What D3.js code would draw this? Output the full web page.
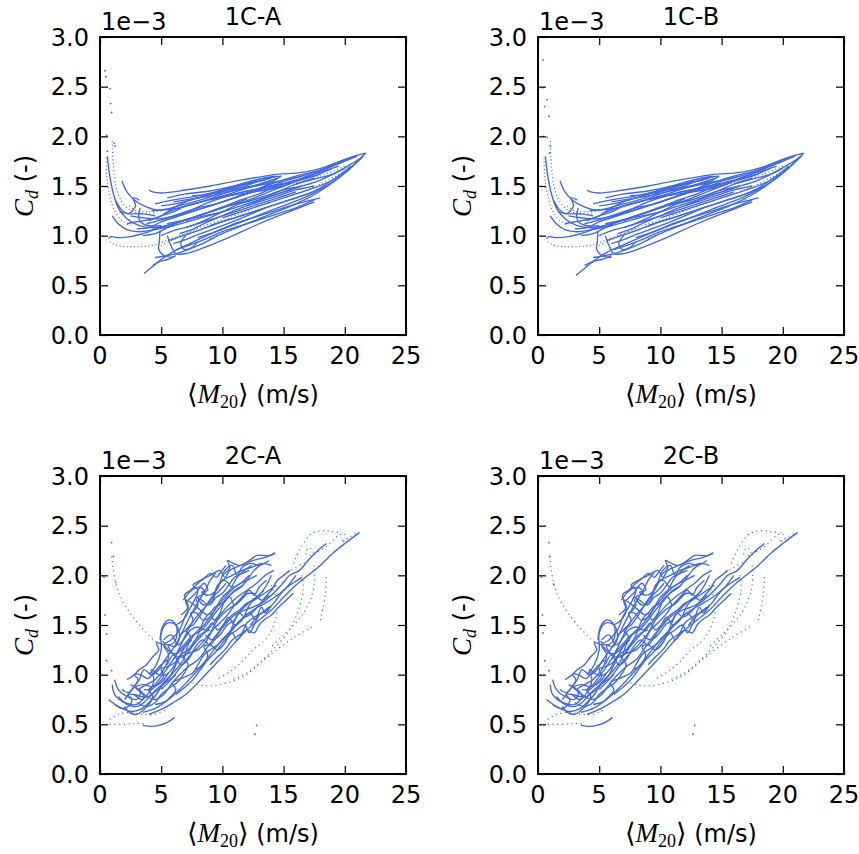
<!DOCTYPE html>
<html>
<head>
<meta charset="utf-8">
<script src="https://cdnjs.cloudflare.com/ajax/libs/d3/7.8.5/d3.min.js"></script>
<style>
    body { margin: 0; background: #fff; }
    svg { font-family: 'DejaVu Sans', sans-serif; }
</style>
</head>
<body>
<svg width="859" height="854"></svg>
<script>
// axis ticks
const xTicks = [0, 5, 10, 15, 20, 25];
const yTicks = [0.0, 0.5, 1.0, 1.5, 2.0, 2.5, 3.0];
const panelTitles = ['1C-A', '1C-B', '2C-A', '2C-B'];

// 1C runs: [M20 (m/s), Cd (x1e-3)]
const solid1C = [
    [[0.6,1.8],[0.8,1.6],[1.1,1.42],[1.5,1.28],[2.2,1.17],[3.2,1.1],[4.5,1.08],[6,1.12],[8,1.2],[10,1.28],[12,1.37]],
    [[1.8,1.55],[2.2,1.44],[2.8,1.36],[3.6,1.3],[4.6,1.26],[6,1.27],[8,1.33],[10,1.4],[12,1.48],[14.5,1.58]],
    [[4.0,1.46],[4.3,1.44],[5,1.43],[7,1.46],[9,1.5],[11.5,1.56],[14.5,1.62]],
    [[0.7,0.97],[0.9,0.99],[1.5,0.98],[2.5,0.99],[3.5,1.02],[4.5,1.06],[6,1.1],[8,1.17],[10,1.24]],
    [[4.5,0.78],[5.5,0.8],[6.5,0.83],[8,0.9],[10,1.02],[12,1.12],[14,1.22],[16,1.32],[18,1.45],[20,1.63],[21.5,1.8]],
    [[5,1.0],[6,1.05],[7.5,1.1],[9,1.18],[11,1.3],[13,1.4],[15,1.5],[17,1.6],[19,1.7],[21,1.8]],
    [[3,1.07],[4,1.08],[5,1.14],[6.5,1.2],[8,1.26],[10,1.34],[12,1.43],[14,1.52],[16,1.6],[18,1.66],[20,1.75]],
    [[2.5,1.2],[3.5,1.18],[5,1.17],[7,1.23],[9,1.3],[11,1.38],[13,1.47],[14.8,1.6]],
    [[4.5,1.32],[6,1.36],[8,1.4],[10,1.46],[12,1.52],[14,1.58]],
    [[5.5,1.38],[7,1.42],[9,1.45],[11,1.5],[13.5,1.56]],
    [[4.9,1.05],[4.85,0.95],[4.8,0.86],[5.2,0.8],[6,0.78]],
    [[5.5,1.0],[5.8,0.9],[6.2,0.82],[7,0.82],[8.5,0.88],[10.5,0.98],[13,1.12],[15,1.22],[17.5,1.34]],
    [[6,0.92],[7,0.96],[8,1.01],[10,1.1],[12,1.2],[13.5,1.28]],
    [[3.3,1.28],[3.15,1.2],[3.3,1.14],[4,1.1],[5,1.1]],
    [[1.6,1.24],[2.5,1.22],[3.5,1.22],[4.5,1.2]],
    [[7,1.15],[8.5,1.22],[10,1.29],[11.5,1.36],[13,1.42],[14.5,1.5],[16,1.55],[17.5,1.6],[19,1.68]],
    [[15,1.55],[16.5,1.6],[18,1.66],[19.5,1.74],[21,1.8]],
    [[12,1.3],[14,1.4],[16,1.48],[18,1.56],[20,1.68]],
    [[14.5,1.62],[16,1.63],[17.5,1.66],[19,1.72],[20.5,1.79],[21.7,1.83]],
    [[4,1.15],[5,1.2],[6,1.24],[7,1.3],[8.5,1.35],[10,1.42],[11.5,1.48],[13,1.55],[14.5,1.6]],
    [[5,1.3],[6.5,1.33],[8,1.38],[9.5,1.43],[11,1.47],[12.5,1.5],[14,1.55]],
    [[6,1.18],[7.5,1.26],[9,1.34],[10.5,1.4],[12,1.45],[13.5,1.48],[15,1.52]],
    [[3.5,1.0],[4.5,1.02],[5.5,1.08],[6.5,1.14],[7.5,1.18],[8.5,1.22],[9.5,1.26],[11,1.32],[12.5,1.36]],
    [[6.5,1.02],[7.5,1.06],[8.5,1.12],[10,1.2],[11.5,1.28],[13,1.34],[14.5,1.4],[16,1.46],[17.5,1.5]],
    [[8,0.98],[9,1.02],[10,1.07],[11,1.12],[12.5,1.18],[14,1.24],[15.5,1.3],[17,1.35],[18,1.38]],
    [[7,1.0],[6.6,0.92],[6.9,0.86],[7.5,0.88],[8,0.94]],
    [[1.0,1.2],[1.5,1.12],[2.2,1.06],[3,1.04],[4,1.05],[5,1.09]],
    [[1.3,1.35],[1.7,1.27],[2.3,1.22],[2.9,1.3],[2.7,1.38],[3.2,1.36]],
    [[3.8,1.12],[5,1.16],[6.5,1.22],[8,1.28],[9.5,1.32],[11,1.38],[12.5,1.44],[14,1.5],[15,1.55]],
    [[4.2,1.25],[5.5,1.27],[7,1.32],[8.5,1.37],[10,1.44],[11.5,1.5],[13,1.57],[14.3,1.6]],
    [[5.2,1.22],[6.5,1.28],[8,1.33],[9.5,1.38],[11,1.42],[12.5,1.46],[14,1.5],[16,1.56],[18,1.62]],
    [[4.8,1.08],[6,1.12],[7.5,1.18],[9,1.24],[10.5,1.3],[12,1.34],[13.5,1.4],[15,1.46],[16.5,1.5]],
    [[5.6,0.95],[6.8,1.0],[8,1.05],[9.5,1.12],[11,1.18],[12.5,1.24],[14,1.3],[15.5,1.36],[17,1.42],[18.5,1.5]],
    [[6.2,0.86],[7.2,0.9],[8.5,0.96],[10,1.04],[11.5,1.1],[13,1.16],[14.5,1.22],[16,1.28],[17.5,1.36]],
    [[2.2,1.12],[3,1.14],[4,1.16],[5,1.2],[6,1.28],[7,1.34],[8,1.38]],
    [[7.5,1.4],[9,1.42],[10.5,1.48],[12,1.54],[13.5,1.58],[14.8,1.6]],
    [[9,1.36],[10.5,1.4],[12,1.43],[13.5,1.46],[15,1.5],[16.5,1.58],[18,1.64],[19.5,1.7]],
    [[10,1.18],[11.5,1.24],[13,1.3],[14.5,1.36],[16,1.42],[17.5,1.48],[19,1.56],[20.5,1.7]],
    [[16,1.52],[17.5,1.57],[19,1.62],[20.5,1.72],[21.5,1.8]],
    [[13,1.36],[14.5,1.44],[16,1.52],[17.5,1.58]],
    [[5.5,1.12],[7,1.16],[8.5,1.2],[10,1.24],[11.5,1.3],[13,1.36],[14.5,1.42],[16,1.48]],
    [[6,1.34],[7.5,1.37],[9,1.4],[10.5,1.44],[12,1.48],[13.5,1.52],[15,1.56],[16.5,1.6]],
    [[7,1.08],[8.5,1.14],[10,1.2],[11.5,1.26],[13,1.32],[14.5,1.38],[16,1.44]],
    [[9,1.1],[10.5,1.16],[12,1.22],[13.5,1.28],[15,1.34],[16.5,1.4],[18,1.48],[19.5,1.6]]
];
const solid1A = [
    [[3.6,0.62],[4.2,0.68],[5,0.76],[6,0.84],[7.5,0.93],[9.5,1.04],[12,1.16],[14.5,1.28],[17,1.4],[19.5,1.58],[21.7,1.83]],
    [[4.3,0.7],[4.9,0.74],[5.5,0.76],[6.2,0.8]]
];
const solid1B = [
    [[3.1,0.6],[3.8,0.67],[4.6,0.75],[5.6,0.83],[7.2,0.92],[9.3,1.03],[12,1.16],[14.5,1.28],[17,1.4],[19.5,1.58],[21.7,1.83]],
    [[3.8,0.7],[4.5,0.74],[5.2,0.76],[6,0.8]]
];
const dotted1C = [
    [[0.5,1.78],[0.55,1.6],[0.8,1.4],[1.2,1.25],[1.8,1.15],[2.5,1.1]],
    [[1.0,1.95],[1.1,1.7],[1.3,1.5],[1.7,1.36],[2.4,1.26],[3.5,1.22],[4.5,1.22]],
    [[2.4,1.3],[3,1.25],[4,1.24],[5,1.25]],
    [[0.8,0.94],[1.2,0.91],[2,0.89],[3,0.89],[4.2,0.9],[5.2,0.94],[6.5,1.0],[8,1.06]],
    [[8,1.05],[10,1.15],[12,1.25],[14,1.34],[16,1.42],[18,1.52],[20,1.65]],
    [[9,0.97],[11,1.07],[13,1.17],[15,1.27],[17,1.37]],
    [[12,1.42],[14,1.48],[16,1.53],[18,1.6],[20,1.7]],
    [[5,0.9],[6,0.96],[7,1.02],[8.5,1.1],[10,1.16]]
];
const tail1A = [[0.41,2.66],[0.49,2.6],[0.82,2.48],[0.87,2.33],[0.95,2.24],[0.54,2.01],[1.17,1.93],[1.23,1.9],[0.6,1.85]];
const tail1B = [[0.41,2.77],[0.36,2.49],[0.74,2.37],[0.55,2.3],[0.9,2.2],[0.41,2.0],[0.74,1.99],[1.01,1.9],[0.95,1.83]];

// 2C runs
const solid2C = [
    [[1,0.9],[1.2,0.8],[2,0.72],[3,0.7],[3.6,0.78],[3.2,0.85],[3.8,0.9],[4.5,0.95],[5.2,1.05],[5.6,1.2],[5.2,1.3],[5.8,1.35],[6.5,1.45],[7,1.6],[7.5,1.7],[8,1.85],[7.6,1.9],[8.2,1.95],[9,2.0],[9.8,2.05],[10.2,1.98],[10.6,2.05],[11.5,2.1],[12.5,2.15],[13.5,2.18],[14.3,2.22]],
    [[0.7,0.75],[1.5,0.68],[2.5,0.63],[3.3,0.65],[4,0.72],[4.6,0.8],[5.2,0.92],[5.8,1.0],[6.2,1.1],[6.8,1.25],[7.4,1.38],[7.0,1.45],[7.6,1.5],[8.2,1.6],[8.8,1.72],[9.5,1.85],[10,1.95],[10.8,2.0],[11.6,2.05],[12.4,2.08],[13.2,2.12],[14,2.1]],
    [[1.5,0.78],[2.2,0.7],[3,0.68],[3.6,0.72],[4.2,0.8],[4.8,0.85],[5.5,0.95],[6.2,1.05],[6.8,1.15],[7.2,1.3],[7.8,1.42],[8.5,1.5],[9.2,1.62],[9.8,1.72],[10.5,1.82],[11.2,1.9],[12,1.95],[12.8,2.0]],
    [[4,1.0],[4.6,1.1],[5.0,1.25],[5.0,1.42],[5.5,1.52],[6.2,1.5],[6.5,1.38],[6.1,1.28],[5.6,1.3],[6,1.2],[6.8,1.18],[7.5,1.28],[8.2,1.38],[9,1.48],[9.8,1.6],[10.5,1.7],[11.2,1.78],[12,1.85],[12.8,1.92],[13.5,2.0],[14.2,2.05]],
    [[6.8,1.75],[7.5,1.85],[8.2,1.88],[8.6,1.82],[8.0,1.78],[8.5,1.7],[9.2,1.75],[9.6,1.9],[10.2,1.95],[10.8,1.88],[11.5,1.92],[12.2,2.0]],
    [[2.5,0.9],[3.2,0.85],[3.8,0.78],[4.5,0.75],[5.2,0.8],[5.8,0.9],[6.5,1.0],[7.2,1.08],[8,1.15],[8.8,1.28],[9.5,1.4],[10.2,1.5],[11,1.6],[11.8,1.65],[12.5,1.68],[13.2,1.72],[14,1.8],[14.8,1.9],[15.5,2.0],[16.3,2.05],[17,2.15],[17.8,2.25],[18.5,2.32]],
    [[4,0.6],[5,0.65],[6,0.72],[7,0.8],[8,0.92],[9,1.05],[10,1.18],[11,1.32],[12,1.45],[13,1.55],[14,1.65],[15,1.78],[16,1.9],[17,2.0],[18,2.1],[19,2.22],[20,2.32],[21.2,2.43]],
    [[3.5,0.49],[4.2,0.48],[4.8,0.49],[5.5,0.52],[6.1,0.57]],
    [[2,0.75],[2.6,0.85],[3.2,0.95],[3.6,1.05],[4.2,1.0],[4.8,1.05],[5.3,1.15],[5.9,1.25],[6.4,1.35],[7,1.5],[7.5,1.62],[8.1,1.75],[8.6,1.85],[9,1.95],[9.5,2.03]],
    [[5,0.85],[5.8,0.95],[6.6,1.08],[7.4,1.2],[8.2,1.3],[9,1.42],[9.6,1.55],[10.4,1.65],[11.2,1.72],[11.8,1.8],[12.5,1.82],[13.2,1.75],[13.8,1.8]],
    [[10,1.35],[10.8,1.45],[11.5,1.55],[12.2,1.62],[12.6,1.55],[12.3,1.5],[12.8,1.58],[13.2,1.68],[13.5,1.62],[14,1.7]],
    [[1.2,0.95],[1.5,0.85],[2.2,0.78],[3,0.75],[3.3,0.82],[2.9,0.87],[3.5,0.9],[4.3,0.88],[5,0.92],[5.6,1.02]],
    [[7.2,1.75],[7.8,1.82],[8.5,1.92],[8.8,1.85],[8.3,1.83],[8.8,1.8],[9.5,1.85],[10.2,2.05],[10.8,2.1],[11.2,2.0],[11.6,2.08],[12.3,2.12],[13,2.1],[13.8,2.15]],
    [[6,1.15],[6.5,1.25],[7,1.32],[7.6,1.4],[8.3,1.45],[9,1.55],[9.6,1.65],[10.3,1.75],[11,1.85],[11.7,1.9]],
    [[3.5,0.62],[4.5,0.66],[5.5,0.74],[6.5,0.85],[7.5,0.98],[8.5,1.12],[9.5,1.28],[10.5,1.42],[11.5,1.55],[12.5,1.65],[13.5,1.72],[14.5,1.8],[15.5,1.9],[16.5,1.98]],
    [[5.5,1.1],[6,1.2],[6.6,1.1],[7.2,1.15],[7.8,1.28],[8.4,1.35],[9,1.3],[9.5,1.38],[10,1.48],[10.5,1.58],[11,1.5],[11.6,1.55],[12.2,1.7],[12.8,1.78],[13.4,1.85]],
    [[2,0.68],[2.4,0.62],[3,0.6],[3.5,0.64],[4,0.7],[4.3,0.78],[4.0,0.85],[4.5,0.9],[5,0.98],[5.6,1.08],[6.2,1.2],[6.8,1.35],[7.4,1.5],[8,1.6],[8.6,1.68],[9.2,1.78],[9.8,1.85],[10.3,1.92]],
    [[3,0.72],[3.8,0.68],[4.5,0.72],[5,0.8],[5.6,0.86],[6.3,0.92],[6.8,1.0],[7.2,1.1],[6.8,1.18],[7.3,1.22],[8,1.25],[8.6,1.32],[9.2,1.45],[9.8,1.52],[10.4,1.6],[11,1.7],[11.6,1.78],[12.2,1.85],[12.6,1.8],[13,1.88],[13.6,1.95]],
    [[2.8,0.8],[3.4,0.75],[4,0.82],[4.4,0.95],[4.2,1.05],[4.8,1.0],[5.4,1.0],[6,1.08],[6.5,1.18],[7,1.2],[7.6,1.3],[8,1.4],[8.5,1.55],[9,1.62],[9.3,1.55],[9.8,1.62],[10.2,1.75],[10.8,1.82],[11.5,1.88],[12,1.95],[12.6,2.05],[13.3,2.12]],
    [[6.2,0.8],[7,0.88],[7.6,0.95],[8.2,1.05],[8.8,1.15],[9.4,1.22],[10,1.32],[10.6,1.4],[11.2,1.45],[11.8,1.5],[12.2,1.42],[12.6,1.5],[13,1.6],[13.6,1.65],[14.2,1.72],[14.8,1.82],[15.4,1.9],[16,2.0]],
    [[7.5,1.62],[8,1.7],[7.8,1.78],[8.3,1.75],[8.9,1.7],[9.5,1.78],[10,1.82],[10.5,1.9],[11,1.98],[11.6,2.02],[12.2,2.05]],
    [[6.2,1.5],[6.8,1.55],[7.2,1.65],[7.0,1.75],[7.5,1.72],[8.2,1.65],[8.8,1.6],[9.4,1.68],[10,1.72],[10.6,1.78],[11,1.7],[11.5,1.75],[12,1.82]],
    [[5.2,1.35],[5.8,1.4],[6.4,1.3],[7,1.38],[7.4,1.45],[8,1.48],[8.6,1.45],[9.2,1.52],[9.6,1.45],[10.2,1.52],[10.8,1.6],[11.4,1.65],[12,1.72],[12.6,1.75],[13.2,1.8],[13.8,1.85],[14.4,1.9]],
    [[4.5,0.7],[5.2,0.72],[5.8,0.78],[6.2,0.85],[5.9,0.92],[6.4,0.95],[7,0.98],[7.6,1.02],[8,1.1],[8.5,1.2],[9,1.25],[9.6,1.3],[10.2,1.38],[10.8,1.42],[11.2,1.35],[11.6,1.42],[12,1.52],[12.6,1.58],[13.2,1.62],[13.8,1.68]],
    [[2.2,0.95],[2.8,1.0],[3.2,1.05],[3.8,1.1],[4.3,1.18],[4.8,1.25],[4.6,1.32],[5.2,1.3],[5.8,1.22],[6.4,1.22],[7,1.3],[7.5,1.35]],
    [[1.8,0.85],[2.3,0.82],[2.8,0.88],[3.1,0.95],[2.8,1.0],[3.3,1.0],[3.9,0.96],[4.4,1.02],[5,1.1],[5.5,1.15]],
    [[1.2,0.7],[1.8,0.66],[2.3,0.68],[2.6,0.75],[2.3,0.8],[2.8,0.8],[3.4,0.78],[4,0.78],[4.6,0.85],[5.1,0.9],[5.7,0.95],[6.2,1.0]],
    [[8.6,1.4],[9.2,1.35],[9.8,1.4],[10.4,1.5],[11,1.55],[11.4,1.62],[11.8,1.58],[12.4,1.62],[13,1.7],[13.5,1.78],[14,1.85],[14.5,1.95],[15,2.0],[15.5,2.05]],
    [[9,1.1],[9.6,1.18],[10.2,1.25],[10.8,1.35],[11.4,1.4],[12,1.45],[12.6,1.42],[13,1.5],[13.4,1.55],[14,1.6],[14.6,1.68],[15.2,1.75],[15.8,1.82]],
    [[10,2.0],[10.6,2.08],[10.4,2.15],[10.9,2.12],[11.5,2.1],[12.2,2.15],[12.8,2.2],[13.4,2.2],[13.9,2.2],[14.3,2.23]],
    [[6.6,1.6],[7.2,1.68],[6.9,1.8],[7.4,1.85],[8.0,1.92],[8.6,1.98],[9.0,2.02],[9.5,1.98],[9.9,2.04],[10.3,2.1]],
    [[4.9,1.35],[5.1,1.48],[5.6,1.55],[6.1,1.52],[6.3,1.42],[6.0,1.32],[5.5,1.3],[5.1,1.34]],
    [[7.8,1.05],[8.4,1.1],[8.8,1.2],[8.5,1.28],[9,1.3],[9.6,1.25],[10.2,1.32],[10.8,1.48],[11.2,1.6],[11.8,1.68],[12.4,1.75],[13,1.8],[13.6,1.9],[14,2.0]],
    [[6.5,1.4],[7,1.45],[7.6,1.55],[7.4,1.62],[7.9,1.62],[8.4,1.55],[9,1.58],[9.5,1.68],[10,1.78],[10.6,1.85],[11.2,1.98],[11.8,2.05],[12.4,2.1]],
    [[3.6,0.85],[4.2,0.85],[4.8,0.92],[5.2,0.98],[5,1.06],[5.5,1.08],[6.1,1.12],[6.6,1.2],[7.2,1.25],[7.8,1.35],[8.4,1.42],[9,1.45]]
];
const dotted2C = [
    [[0.95,2.19],[1.25,1.94],[1.8,1.75],[2.7,1.58],[3.6,1.45],[4.6,1.33],[5.6,1.3]],
    [[15,2.0],[15.6,2.05],[16.3,2.1],[17,2.15],[17.4,2.22],[17.1,2.28],[16.8,2.22],[17.3,2.2],[18,2.25],[18.6,2.3],[19,2.35],[19.5,2.4],[19.9,2.42],[20.2,2.36],[19.7,2.34],[20.3,2.38],[21.2,2.44]],
    [[15.8,2.12],[16.5,2.3],[17.3,2.42],[18.2,2.45],[19,2.44],[19.8,2.43]],
    [[18.5,1.98],[18.4,1.8],[18,1.55]],
    [[17.3,1.48],[15.8,1.37],[13.6,1.17],[11.7,0.98],[9.25,0.89],[8,0.9],[7,0.95]],
    [[16.5,2.0],[16.6,1.85],[16.2,1.65],[15.5,1.45],[14.5,1.3],[13.3,1.15],[12,1.02],[10.8,0.95]],
    [[17.5,2.1],[17.5,1.9],[17,1.7],[16.2,1.55],[15,1.4],[14,1.28]],
    [[14,1.9],[14.5,1.7],[14.2,1.5],[13.5,1.35],[12.5,1.25],[11.5,1.12],[10.5,1.02],[9.5,0.95]],
    [[0.8,0.5],[2,0.5],[3,0.51],[3.8,0.5]],
    [[0.8,0.55],[1.5,0.6],[2.5,0.62],[3.5,0.6],[4.5,0.6],[5.5,0.65]]
];
const tail2A = [[0.95,2.33],[1.09,2.19],[0.33,1.98],[1.28,1.93],[0.41,1.6],[0.54,1.41],[0.54,1.14],[0.95,1.04],[12.66,0.4],[12.8,0.49]];
const tail2B = [[0.9,2.33],[0.95,2.19],[0.28,1.98],[1.27,1.91],[0.36,1.6],[0.41,1.42],[0.55,1.14],[0.9,1.04],[12.66,0.4],[12.8,0.49]];

(function () {
    const svg = d3.select('svg');
    const plotW = 306, plotH = 298;
    const blue = '#4169e1';
    const fs = '24px';

    const panels = [
        { title: panelTitles[0], left: 100, top: 37, solid: solid1C.concat(solid1A), dotted: dotted1C, dots: tail1A, dash: '1 2.6' },
        { title: panelTitles[1], left: 538, top: 37, solid: solid1C.concat(solid1B), dotted: dotted1C, dots: tail1B, dash: '1 2.6' },
        { title: panelTitles[2], left: 100, top: 476, solid: solid2C, dotted: dotted2C, dots: tail2A, dash: '1.1 3.6' },
        { title: panelTitles[3], left: 538, top: 476, solid: solid2C, dotted: dotted2C, dots: tail2B, dash: '1.1 3.6' }
    ];

    const x = d3.scaleLinear().domain([0, 25]).range([0, plotW]);
    const y = d3.scaleLinear().domain([0, 3]).range([plotH, 0]);

    const line = d3.line()
            .x(d => x(d[0]))
            .y(d => y(d[1]))
            .curve(d3.curveCatmullRom.alpha(0.5));

    panels.forEach((p, i) => {
        const g = svg.append('g')
                .attr('transform', `translate(${p.left},${p.top})`);

        g.append('clipPath')
                .attr('id', 'clip' + i)
                .append('rect')
                .attr('width', plotW)
                .attr('height', plotH);

        const marks = g.append('g').attr('clip-path', `url(#clip${i})`);

        marks.selectAll('path.solid')
                .data(p.solid)
                .enter().append('path')
                .attr('class', 'solid')
                .attr('d', line)
                .attr('fill', 'none')
                .attr('stroke', blue)
                .attr('stroke-width', 1.35);

        marks.selectAll('path.dotted')
                .data(p.dotted)
                .enter().append('path')
                .attr('class', 'dotted')
                .attr('d', line)
                .attr('fill', 'none')
                .attr('stroke', blue)
                .attr('stroke-width', 1.2)
                .attr('stroke-dasharray', p.dash);

        marks.selectAll('circle')
                .data(p.dots)
                .enter().append('circle')
                .attr('cx', d => x(d[0]))
                .attr('cy', d => y(d[1]))
                .attr('r', 0.9)
                .attr('fill', blue);

        // ticks on all four sides, pointing inward; labels drawn below
        const styleAxis = sel => {
            sel.select('.domain').remove();
            sel.selectAll('line').attr('stroke', '#000').attr('stroke-width', 1.2);
        };

        g.append('g')
                .attr('transform', `translate(0,${plotH})`)
                .call(d3.axisBottom(x).tickValues(xTicks).tickSize(-8).tickFormat(''))
                .call(styleAxis);
        g.append('g')
                .call(d3.axisLeft(y).tickValues(yTicks).tickSize(-8).tickFormat(''))
                .call(styleAxis);
        g.append('g')
                .call(d3.axisTop(x).tickValues(xTicks).tickSize(-8).tickFormat(''))
                .call(styleAxis);
        g.append('g')
                .attr('transform', `translate(${plotW},0)`)
                .call(d3.axisRight(y).tickValues(yTicks).tickSize(-8).tickFormat(''))
                .call(styleAxis);

        g.append('g')
                .selectAll('text')
                .data(xTicks)
                .enter().append('text')
                .attr('x', d => x(d))
                .attr('y', plotH + 29)
                .attr('text-anchor', 'middle')
                .style('font-size', fs)
                .text(d3.format('d'));

        g.append('g')
                .selectAll('text')
                .data(yTicks)
                .enter().append('text')
                .attr('x', -11)
                .attr('y', d => y(d))
                .attr('dy', '0.36em')
                .attr('text-anchor', 'end')
                .style('font-size', fs)
                .text(d3.format('.1f'));

        g.append('rect')
                .attr('width', plotW)
                .attr('height', plotH)
                .attr('fill', 'none')
                .attr('stroke', '#000')
                .attr('stroke-width', 2);

        g.append('text')
                .attr('x', plotW / 2)
                .attr('y', -12)
                .attr('text-anchor', 'middle')
                .style('font-size', fs)
                .text(p.title);

        g.append('text')
                .attr('x', 1)
                .attr('y', -7)
                .style('font-size', fs)
                .text('1e\u22123');

        // x label: <M_20> (m/s)
        const xl = g.append('text')
                .attr('x', plotW / 2)
                .attr('y', plotH + 68)
                .attr('text-anchor', 'middle')
                .style('font-size', fs);
        xl.append('tspan').style('font-family', 'DejaVu Serif').style('font-size', '27px').text('\u27e8');
        xl.append('tspan').style('font-family', 'Liberation Serif').style('font-style', 'italic').style('font-size', '27px').text('M');
        xl.append('tspan').style('font-family', 'Liberation Serif').style('font-size', '18px').attr('dy', 5).text('20');
        xl.append('tspan').style('font-family', 'DejaVu Serif').style('font-size', '27px').attr('dy', -5).text('\u27e9');
        xl.append('tspan').text(' (m/s)');

        // y label: C_d (-)
        const yl = g.append('text')
                .attr('transform', `translate(-67,${plotH / 2}) rotate(-90)`)
                .attr('text-anchor', 'middle')
                .style('font-size', fs);
        yl.append('tspan').style('font-family', 'Liberation Serif').style('font-style', 'italic').style('font-size', '27px').text('C');
        yl.append('tspan').style('font-family', 'Liberation Serif').style('font-style', 'italic').style('font-size', '18px').attr('dy', 5).text('d');
        yl.append('tspan').attr('dy', -5).text(' (-)');
    });
})();
</script>
</body>
</html>
